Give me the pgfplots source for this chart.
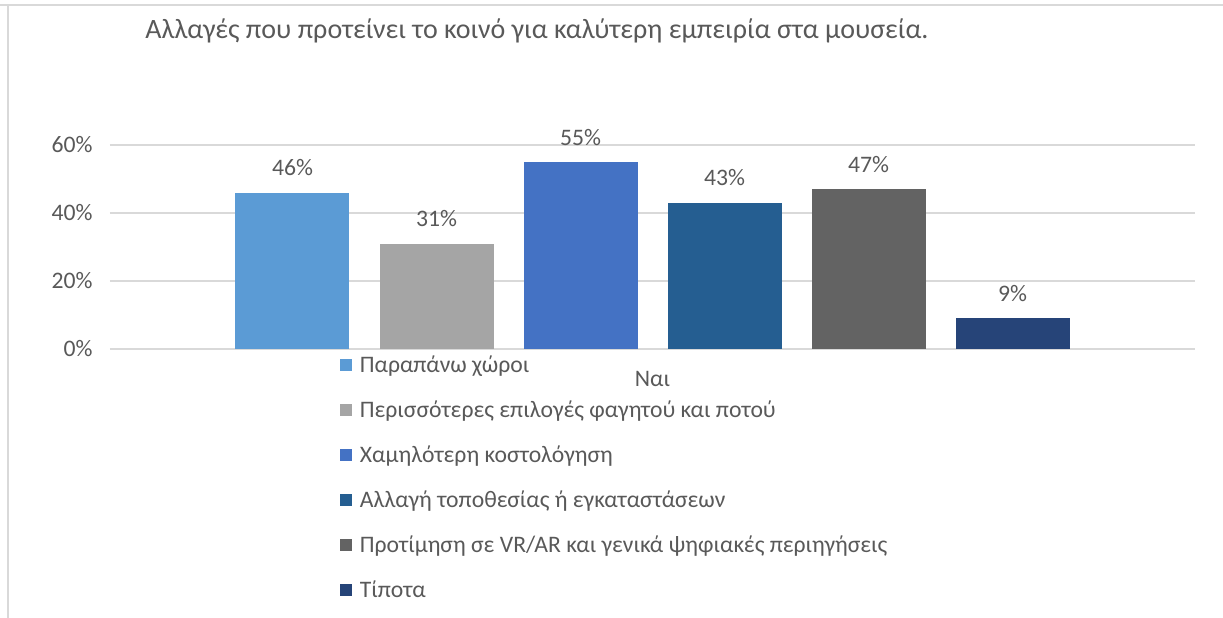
\documentclass[border=0pt]{standalone}
\usepackage{pgfplots}
\pgfplotsset{compat=1.18}
\usepackage{fontspec}
\setmainfont{Carlito}
\definecolor{txt}{HTML}{595959}
\definecolor{gridc}{HTML}{D9D9D9}
\definecolor{c1}{HTML}{5B9BD5}
\definecolor{c2}{HTML}{A5A5A5}
\definecolor{c3}{HTML}{4472C4}
\definecolor{c4}{HTML}{255E91}
\definecolor{c5}{HTML}{636363}
\definecolor{c6}{HTML}{264478}
\begin{document}
\begin{tikzpicture}
\useasboundingbox (0,0) rectangle (733.8pt,370.8pt);
\draw[gridc, line width=1.2pt] (0,367.8pt) -- (733.8pt,367.8pt);
\draw[gridc, line width=1.2pt] (4.8pt,367.8pt) -- (4.8pt,0);
\node[anchor=west, text=txt, font=\fontsize{16.8}{20}\selectfont, inner sep=0pt] at (87pt,352pt) {Αλλαγές που προτείνει το κοινό για καλύτερη εμπειρία στα μουσεία.};
\begin{axis}[
  at={(66pt,161.4pt)}, anchor=south west,
  scale only axis, width=651pt, height=122.4pt,
  xmin=-1, xmax=1, ymin=0, ymax=60,
  axis line style={draw=none},
  xmajorgrids=false, ymajorgrids=true,
  major grid style={draw=gridc, line width=1pt},
  ytick={0,20,40,60},
  yticklabel={\pgfmathprintnumber{\tick}\%},
  /pgf/number format/assume math mode=true,
  major tick length=0pt,
  xtick={0}, xticklabels={Ναι},
  tick label style={text=txt, font=\fontsize{14.2}{16}\selectfont},
  x tick label style={yshift=-10pt},
  y tick label style={xshift=-7pt},
  ybar=18pt, bar width=68.4pt,
  nodes near coords={\pgfmathprintnumber{\pgfplotspointmeta}\%},
  every node near coord/.append style={text=txt, font=\fontsize{14.2}{16}\selectfont, yshift=6.5pt},
  legend style={at={(0.212,-0.015)}, anchor=north west, draw=none, fill=none,
    font=\fontsize{14.2}{16}\selectfont, text=txt, row sep=11.5pt, inner sep=0pt,
    nodes={inner xsep=4.5pt}},
  legend cell align=left,
  legend image code/.code={\fill[#1] (0pt,-3.6pt) rectangle (7.2pt,3.6pt);},
  clip=false,
]
\addplot[fill=c1, draw=none] coordinates {(0,46)};
\addplot[fill=c2, draw=none] coordinates {(0,31)};
\addplot[fill=c3, draw=none] coordinates {(0,55)};
\addplot[fill=c4, draw=none] coordinates {(0,43)};
\addplot[fill=c5, draw=none] coordinates {(0,47)};
\addplot[fill=c6, draw=none] coordinates {(0,9)};
\legend{Παραπάνω χώροι, Περισσότερες επιλογές φαγητού και ποτού, Χαμηλότερη κοστολόγηση, Αλλαγή τοποθεσίας ή εγκαταστάσεων, Προτίμηση σε VR/AR και γενικά ψηφιακές περιηγήσεις, Τίποτα}
\end{axis}
\end{tikzpicture}
\end{document}
